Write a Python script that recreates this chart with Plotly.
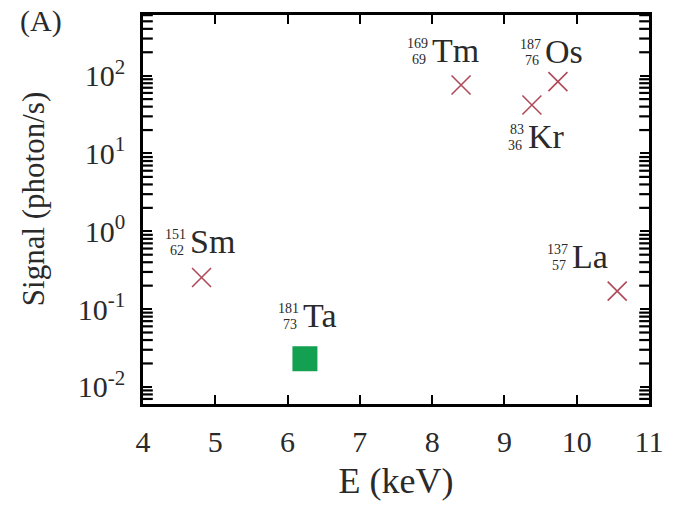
import math
import plotly.graph_objects as go

# Nuclear resonance candidates: element, mass number A, atomic number Z,
# resonance energy (keV) and expected signal (photon/s)
elements = ["Sm", "Tm", "Kr", "Os", "La"]
mass_numbers = [151, 169, 83, 187, 137]
atomic_numbers = [62, 69, 36, 76, 57]
energies = [4.81, 8.40, 9.38, 9.74, 10.56]
signals = [0.255, 76.0, 42.0, 84.0, 0.17]

# Tantalum is drawn separately
ta_element = "Ta"
ta_mass = 181
ta_atomic = 73
ta_energy = 6.24
ta_signal = 0.023

# Decade exponents labelled on the signal axis
y_exponents = [-2, -1, 0, 1, 2]
x_ticks = [4, 5, 6, 7, 8, 9, 10, 11]

# Label offsets (pixels) of the element symbol's left edge from its marker
label_shift = {
    "Sm": (-14, 36),
    "Tm": (-31, 34),
    "Kr": (-6, -31),
    "Os": (-15, 30),
    "La": (-47, 35),
    "Ta": (-4, 43),
}

SERIF = "Liberation Serif"
TXT = "#2a2a2a"
X_RANGE = [4, 11]
Y_RANGE = [-2.22, 2.78]

fig = go.Figure()

# minor decade ticks along both vertical frame edges (half-clipped dashes)
minor_vals = [m * 10.0 ** p for p in range(-3, 3) for m in range(2, 10)
              if Y_RANGE[0] < math.log10(m * 10.0 ** p) < Y_RANGE[1]]
for edge in X_RANGE:
    fig.add_trace(go.Scatter(
        x=[edge] * len(minor_vals), y=minor_vals, mode="markers",
        marker=dict(symbol="line-ew", size=14, color="black",
                    line=dict(color="black", width=2.2)),
        cliponaxis=True, hoverinfo="skip", showlegend=False,
    ))

fig.add_trace(go.Scatter(
    x=energies, y=signals, mode="markers",
    marker=dict(symbol="x-thin", size=19,
                line=dict(color="#b04a5a", width=1.6)),
    showlegend=False,
))
fig.add_trace(go.Scatter(
    x=[ta_energy], y=[ta_signal], mode="markers",
    marker=dict(symbol="square", size=25, color="#13a050",
                line=dict(width=0)),
    showlegend=False,
))

def isotope_label(el, a, z, x, y):
    dx, dy = label_shift[el]
    ly = math.log10(y)  # annotations on a log axis take log10 coordinates
    fig.add_annotation(x=x, y=ly, text=el,
                       showarrow=False, xanchor="left", yanchor="middle",
                       xshift=dx, yshift=dy,
                       font=dict(family=SERIF, size=34, color=TXT))
    fig.add_annotation(x=x, y=ly, text=str(a), showarrow=False,
                       xanchor="right", yanchor="middle",
                       xshift=dx, yshift=dy + 7,
                       font=dict(family=SERIF, size=14, color=TXT))
    fig.add_annotation(x=x, y=ly, text=str(z), showarrow=False,
                       xanchor="right", yanchor="middle",
                       xshift=dx - 2, yshift=dy - 9,
                       font=dict(family=SERIF, size=14, color=TXT))

for el, a, z, e, s in zip(elements, mass_numbers, atomic_numbers, energies, signals):
    isotope_label(el, a, z, e, s)
isotope_label(ta_element, ta_mass, ta_atomic, ta_energy, ta_signal)

# panel tag
fig.add_annotation(x=-0.248, y=0.985, xref="paper", yref="paper",
                   text="(A)", showarrow=False, xanchor="left", yanchor="middle",
                   font=dict(family=SERIF, size=30, color=TXT))
# signal axis title
fig.add_annotation(x=-0.215, y=0.527, xref="paper", yref="paper",
                   text="Signal (photon/s)", textangle=-90, showarrow=False,
                   xanchor="center", yanchor="middle",
                   font=dict(family=SERIF, size=31, color=TXT))

axis_common = dict(
    showline=True, linecolor="black", linewidth=2.5, mirror="ticks",
    ticks="inside", tickcolor="black", tickwidth=2, ticklen=9,
    showgrid=False, zeroline=False,
    tickfont=dict(family=SERIF, size=30, color=TXT),
    ticklabelstandoff=9,
)

fig.update_xaxes(
    range=X_RANGE, tickmode="array", tickvals=x_ticks,
    ticktext=[str(v) for v in x_ticks],
    title=dict(text="E (keV)", font=dict(family=SERIF, size=36, color=TXT),
               standoff=12),
    **axis_common,
)

fig.update_yaxes(
    type="log", range=Y_RANGE, tickmode="array",
    tickvals=[10.0 ** p for p in y_exponents],
    ticktext=[f"10<sup>{p}</sup>" for p in y_exponents],
    **axis_common,
)

fig.update_layout(
    width=675, height=507,
    margin=dict(l=143, r=21, t=15, b=102),
    paper_bgcolor="white", plot_bgcolor="white",
    font=dict(family=SERIF, color=TXT),
)

fig.write_html("out.html")
